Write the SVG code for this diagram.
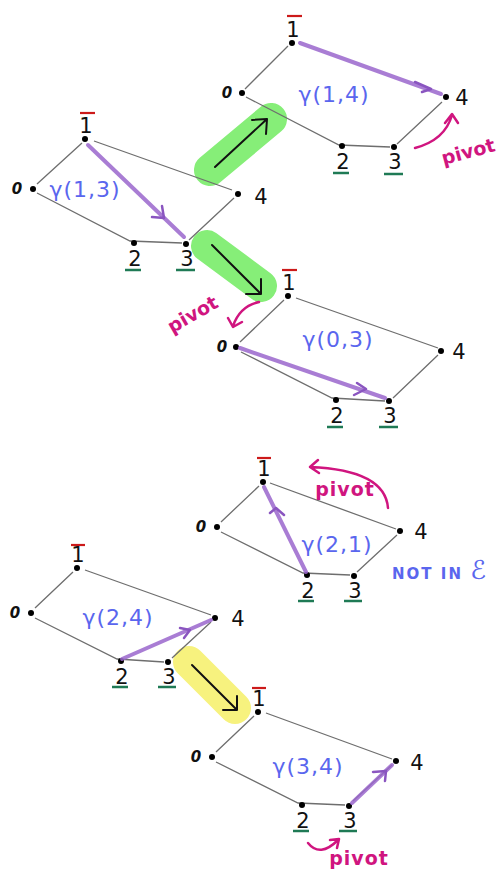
<svg xmlns="http://www.w3.org/2000/svg" width="501" height="872" viewBox="0 0 501 872">
<style>
.e{stroke:#6e6e6e;stroke-width:1.3;fill:none}
.d{fill:#000}
.n{font-family:"DejaVu Sans",sans-serif;font-size:21px;fill:#111;text-anchor:middle}
.z{font-family:"DejaVu Sans",sans-serif;font-size:15px;font-style:italic;font-weight:bold;fill:#111;text-anchor:middle}
.g{font-family:"DejaVu Sans",sans-serif;font-size:22px;fill:#5a66ee;text-anchor:middle;letter-spacing:1px}
.r{stroke:#cc1a1a;stroke-width:2.2}
.u{stroke:#1f7a55;stroke-width:2.5}
.p{stroke:#9a66cc;stroke-width:4;fill:none;stroke-opacity:0.85;stroke-linecap:round}
.ph{stroke:#8a55c0;stroke-width:2.5;fill:none;stroke-linecap:round;stroke-linejoin:round}
.m{stroke:#d0157f;stroke-width:2.5;fill:none;stroke-linecap:round;stroke-linejoin:round}
.mt{font-family:"DejaVu Sans",sans-serif;font-size:19px;fill:#d0157f;font-weight:bold;text-anchor:middle}
.hg{stroke:#86ee78;stroke-width:32;stroke-linecap:round}
.hy{stroke:#f7f27e;stroke-width:32;stroke-linecap:round}
.k{stroke:#111;stroke-width:2;fill:none;stroke-linecap:round;stroke-linejoin:round}
</style>

<g id="transitions">
  <line class="hg" x1="210" y1="170" x2="271" y2="119"/>
  <path class="k" d="M215 167 L267 119 M252 120 L267 119 L266 134"/>
  <line class="hg" x1="207" y1="246" x2="261" y2="286"/>
  <path class="k" d="M212 245 L261 294 M261 279 L261 294 L246 294"/>
  <line class="hy" x1="189" y1="662" x2="235" y2="708"/>
  <path class="k" d="M192 665 L237 710 M237 696 L237 710 L223 710"/>
</g>

<g id="pentA">
  <path class="e" d="M288 46 L245 89 M246 97 L339 145 L390 147 M397 144 L442 102"/>
  <circle class="d" cx="292" cy="43" r="3"/><circle class="d" cx="242" cy="93" r="3"/>
  <circle class="d" cx="342" cy="146" r="3"/><circle class="d" cx="394" cy="147" r="3"/>
  <circle class="d" cx="446" cy="97" r="3"/>
  <line class="r" x1="287" y1="16" x2="302" y2="16"/>
  <text class="n" x="293" y="37">1</text>
  <text class="z" x="227" y="98">0</text>
  <text class="n" x="343" y="169">2</text><line class="u" x1="333" y1="173" x2="349" y2="173"/>
  <text class="n" x="395" y="169">3</text><line class="u" x1="384" y1="174" x2="403" y2="174"/>
  <text class="n" x="462" y="105">4</text>
  <text class="g" x="334" y="102">γ(1,4)</text>
  <line class="p" x1="300" y1="43" x2="441" y2="94"/>
  <path class="ph" d="M415 82 L431 89 L422 92"/>
  <path class="m" d="M415 148 Q445 140 452 115 M445 123 L452 114 L458 123"/>
  <text class="mt" x="470" y="158" transform="rotate(-15 470 158)">pivot</text>
</g>

<g id="pentB">
  <path class="e" d="M82 143 L37 184 M37 193 L130 241 L182 243 M189 240 L234 198 M94 141 L232 190"/>
  <circle class="d" cx="85" cy="139" r="3"/><circle class="d" cx="33" cy="189" r="3"/>
  <circle class="d" cx="134" cy="243" r="3"/><circle class="d" cx="186" cy="244" r="3"/>
  <circle class="d" cx="238" cy="194" r="3"/>
  <line class="r" x1="80" y1="113" x2="95" y2="113"/>
  <text class="n" x="86" y="133">1</text>
  <text class="z" x="17" y="194">0</text>
  <text class="n" x="135" y="266">2</text><line class="u" x1="125" y1="270" x2="141" y2="270"/>
  <text class="n" x="187" y="266">3</text><line class="u" x1="176" y1="270" x2="195" y2="270"/>
  <text class="n" x="261" y="204">4</text>
  <text class="g" x="85" y="197">γ(1,3)</text>
  <line class="p" x1="88" y1="145" x2="184" y2="237"/>
  <path class="ph" d="M162 206 L164 218 L152 217"/>
</g>

<g id="pentC">
  <path class="e" d="M284 300 L240 342 M241 352 L332 398 L385 401 M393 398 L438 355 M296 298 L438 348"/>
  <circle class="d" cx="288" cy="296" r="3"/><circle class="d" cx="236" cy="347" r="3"/>
  <circle class="d" cx="336" cy="400" r="3"/><circle class="d" cx="389" cy="401" r="3"/>
  <circle class="d" cx="441" cy="351" r="3"/>
  <line class="r" x1="282" y1="270" x2="297" y2="270"/>
  <text class="n" x="289" y="290">1</text>
  <text class="z" x="222" y="352">0</text>
  <text class="n" x="337" y="423">2</text><line class="u" x1="327" y1="427" x2="343" y2="427"/>
  <text class="n" x="390" y="423">3</text><line class="u" x1="379" y1="427" x2="398" y2="427"/>
  <text class="n" x="459" y="359">4</text>
  <text class="g" x="338" y="347">γ(0,3)</text>
  <line class="p" x1="240" y1="348" x2="385" y2="398"/>
  <path class="ph" d="M357 383 L366 389 L354 395"/>
  <path class="m" d="M259 302 Q240 306 233 326 M228 318 L233 327 L242 322"/>
  <text class="mt" x="196" y="320" transform="rotate(-30 196 320)">pivot</text>
</g>

<g id="pentD">
  <path class="e" d="M259 486 L221 522 M221 532 L303 573 L350 575 M357 572 L397 535 M270 483 L396 529"/>
  <circle class="d" cx="263" cy="482" r="3"/><circle class="d" cx="217" cy="527" r="3"/>
  <circle class="d" cx="307" cy="575" r="3"/><circle class="d" cx="354" cy="576" r="3"/>
  <circle class="d" cx="400" cy="531" r="3"/>
  <line class="r" x1="257" y1="458" x2="271" y2="458"/>
  <text class="n" x="264" y="476">1</text>
  <text class="z" x="201" y="532">0</text>
  <text class="n" x="308" y="598">2</text><line class="u" x1="298" y1="601" x2="314" y2="601"/>
  <text class="n" x="355" y="598">3</text><line class="u" x1="344" y1="601" x2="362" y2="601"/>
  <text class="n" x="421" y="539">4</text>
  <text class="g" x="337" y="552">γ(2,1)</text>
  <line class="p" x1="306" y1="572" x2="264" y2="487"/>
  <path class="ph" d="M270 513 L276 508 L284 515"/>
  <path class="m" d="M388 508 Q385 470 310 467 M318 460 L310 467 L319 473"/>
  <text class="mt" x="345" y="496" letter-spacing="1">pivot</text>
  <text x="440" y="579" font-family="DejaVu Sans,sans-serif" font-size="15" font-weight="bold" fill="#5a66ee" text-anchor="middle" letter-spacing="2">NOT IN <tspan font-size="26" font-weight="normal">ℰ</tspan></text>
</g>

<g id="pentE">
  <path class="e" d="M73 572 L35 608 M35 618 L117 659 L164 662 M172 658 L211 622 M85 570 L211 615"/>
  <circle class="d" cx="77" cy="568" r="3"/><circle class="d" cx="31" cy="613" r="3"/>
  <circle class="d" cx="121" cy="661" r="3"/><circle class="d" cx="168" cy="662" r="3"/>
  <circle class="d" cx="215" cy="618" r="3"/>
  <line class="r" x1="71" y1="545" x2="85" y2="545"/>
  <text class="n" x="78" y="562">1</text>
  <text class="z" x="15" y="618">0</text>
  <text class="n" x="122" y="684">2</text><line class="u" x1="112" y1="687" x2="128" y2="687"/>
  <text class="n" x="169" y="684">3</text><line class="u" x1="158" y1="687" x2="176" y2="687"/>
  <text class="n" x="238" y="626">4</text>
  <text class="g" x="118" y="625">γ(2,4)</text>
  <line class="p" x1="122" y1="659" x2="211" y2="620"/>
  <path class="ph" d="M180 628 L190 630 L184 638"/>
</g>

<g id="pentF">
  <path class="e" d="M254 716 L216 752 M216 762 L298 803 L345 805 M353 801 L392 765 M266 713 L392 759"/>
  <circle class="d" cx="258" cy="712" r="3"/><circle class="d" cx="212" cy="757" r="3"/>
  <circle class="d" cx="302" cy="805" r="3"/><circle class="d" cx="349" cy="806" r="3"/>
  <circle class="d" cx="396" cy="761" r="3"/>
  <line class="r" x1="252" y1="688" x2="266" y2="688"/>
  <text class="n" x="259" y="706">1</text>
  <text class="z" x="196" y="762">0</text>
  <text class="n" x="303" y="828">2</text><line class="u" x1="293" y1="831" x2="309" y2="831"/>
  <text class="n" x="350" y="828">3</text><line class="u" x1="339" y1="831" x2="357" y2="831"/>
  <text class="n" x="417" y="770">4</text>
  <text class="g" x="308" y="774">γ(3,4)</text>
  <line class="p" x1="352" y1="803" x2="392" y2="765"/>
  <path class="ph" d="M373 772 L386 771 L385 781"/>
  <path class="m" d="M308 843 Q320 858 338 840 M330 840 L339 839 L337 848"/>
  <text class="mt" x="359" y="865" letter-spacing="1">pivot</text>
</g>
</svg>
